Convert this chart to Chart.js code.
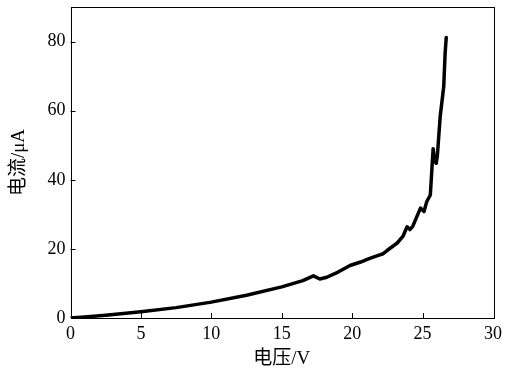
<!DOCTYPE html>
<html>
<head>
<meta charset="utf-8">
<script src="https://cdn.jsdelivr.net/npm/chart.js@4"></script>
<style>
html,body{margin:0;padding:0;background:#fff;}
#wrap{width:512px;height:370px;}
</style>
</head>
<body>
<div id="wrap"><canvas id="c" width="512" height="370"></canvas></div>
<script>
const voltage = [0, 1, 2.5, 5, 7.5, 10, 12.5, 15, 16.5, 17.25, 17.7, 18.2, 19, 19.85, 20.6, 21.2, 21.75, 22.2, 22.5, 23.2, 23.6, 23.9, 24.1, 24.3, 24.6, 24.85, 25.1, 25.3, 25.55, 25.75, 25.85, 25.97, 26.05, 26.25, 26.5, 26.6, 26.68];
const current = [0, 0.3, 0.8, 1.8, 3.0, 4.6, 6.6, 9.0, 10.8, 12.2, 11.3, 11.8, 13.3, 15.2, 16.2, 17.2, 18.0, 18.6, 19.6, 21.7, 23.6, 26.4, 25.6, 26.5, 29.4, 31.8, 30.8, 33.7, 35.6, 49.0, 45.5, 44.8, 47.0, 58.3, 66.9, 76.6, 81.2];
const xTicks = [0, 5, 10, 15, 20, 25, 30];
const yTicks = [0, 20, 40, 60, 80];
const xTitle = '电压/V';
const yTitle = '电流/μA';

const points = voltage.map((v, i) => ({x: v, y: current[i]}));
const tickFont = {family: "'Liberation Serif', 'Times New Roman', serif", size: 18};
const titleFont = {family: "'Liberation Serif', 'Noto Sans CJK SC', serif", size: 19};

const framePlugin = {
  id: 'frame',
  afterDraw(chart) {
    const ctx = chart.ctx, a = chart.chartArea;
    const xs = chart.scales.x, ys = chart.scales.y;
    ctx.save();
    ctx.strokeStyle = '#000';
    ctx.lineWidth = 1;
    ctx.strokeRect(Math.round(a.left) + 0.5, Math.round(a.top) + 0.5, Math.round(a.right - a.left), Math.round(a.bottom - a.top));
    ctx.beginPath();
    xTicks.forEach(v => {
      if (v <= xs.min || v >= xs.max) return;
      const px = Math.round(xs.getPixelForValue(v)) + 0.5;
      ctx.moveTo(px, a.bottom);
      ctx.lineTo(px, a.bottom - 5);
    });
    yTicks.forEach(v => {
      if (v <= ys.min || v >= ys.max) return;
      const py = Math.round(ys.getPixelForValue(v)) + 0.5;
      ctx.moveTo(a.left, py);
      ctx.lineTo(a.left + 5, py);
    });
    ctx.stroke();
    ctx.restore();
  }
};

new Chart(document.getElementById('c'), {
  type: 'scatter',
  data: {
    datasets: [{
      data: points,
      showLine: true,
      borderColor: '#000',
      borderWidth: 3.5,
      pointRadius: 0,
      tension: 0,
      borderJoinStyle: 'round',
      borderCapStyle: 'round'
    }]
  },
  options: {
    responsive: false,
    animation: false,
    layout: {padding: {top: 7, right: 19, left: 0, bottom: 0}},
    plugins: {legend: {display: false}, tooltip: {enabled: false}},
    scales: {
      x: {
        type: 'linear', min: 0, max: 30,
        afterBuildTicks: s => { s.ticks = xTicks.map(v => ({value: v})); },
        afterFit: s => { s.height = 52; s.paddingLeft = 0; s.paddingRight = 0; },
        grid: {display: false, drawTicks: false},
        border: {display: false},
        ticks: {color: '#000', font: tickFont, padding: 5, maxRotation: 0},
        title: {display: true, text: xTitle, color: '#000', font: titleFont, padding: {top: 0, bottom: 0}}
      },
      y: {
        type: 'linear', min: 0, max: 90,
        afterBuildTicks: s => { s.ticks = yTicks.map(v => ({value: v})); },
        afterFit: s => { s.width = 70.5; s.paddingTop = 0; s.paddingBottom = 0; },
        grid: {display: false, drawTicks: false},
        border: {display: false},
        ticks: {color: '#000', font: tickFont, padding: 5},
        title: {display: true, text: yTitle, color: '#000', font: titleFont, padding: {top: 8, bottom: 0}}
      }
    }
  },
  plugins: [framePlugin]
});
</script>
</body>
</html>
